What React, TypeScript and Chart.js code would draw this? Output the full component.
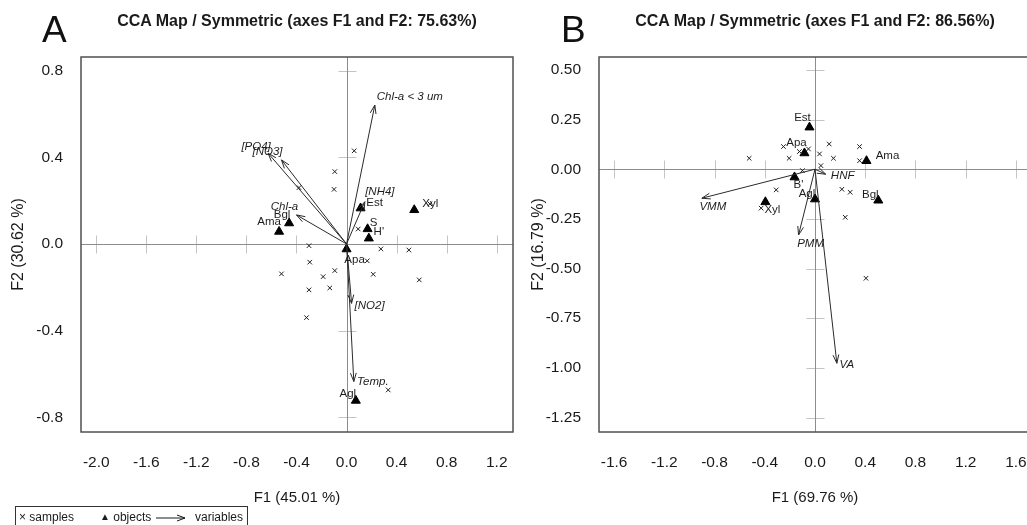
import React, { useEffect, useRef } from "react";
import { Chart, registerables } from "chart.js";

Chart.register(...registerables);

const FONT = "'Liberation Sans', Arial, Helvetica, sans-serif";

// ---------------- Panel A data ----------------
const aTitle = "CCA Map / Symmetric (axes F1 and F2: 75.63%)";
const aXTitle = "F1 (45.01 %)";
const aYTitle = "F2 (30.62 %)";
const aXTicks = [-2.0, -1.6, -1.2, -0.8, -0.4, 0.0, 0.4, 0.8, 1.2];
const aYTicks = [-0.8, -0.4, 0.0, 0.4, 0.8];
const aSampleX = [0.061, -0.094, -0.1, -0.38, 0.093, 0.666, -0.3, 0.274, 0.498, 0.165, -0.294, -0.52, -0.094, -0.187, 0.213, 0.581, -0.3, -0.134, -0.32, 0.333];
const aSampleY = [0.43, 0.334, 0.252, 0.26, 0.069, 0.185, -0.008, -0.023, -0.028, -0.078, -0.084, -0.138, -0.123, -0.151, -0.14, -0.166, -0.212, -0.203, -0.34, -0.674];
const aObjectNames = ["Est", "Xyl", "Bgl", "Ama", "S", "H'", "Apa", "Agl"];
const aObjectX = [0.112, 0.541, -0.459, -0.539, 0.168, 0.178, 0.0, 0.074];
const aObjectY = [0.165, 0.157, 0.096, 0.057, 0.069, 0.026, -0.024, -0.723];
const aVarNames = ["Chl-a < 3 um", "[PO4]", "[NO3]", "Chl-a", "[NH4]", "[NO2]", "Temp."];
const aVarX = [0.226, -0.627, -0.52, -0.4, 0.146, 0.04, 0.058];
const aVarY = [0.641, 0.419, 0.388, 0.134, 0.195, -0.274, -0.635];

// ---------------- Panel B data ----------------
const bTitle = "CCA Map / Symmetric (axes F1 and F2: 86.56%)";
const bXTitle = "F1 (69.76 %)";
const bYTitle = "F2 (16.79 %)";
const bXTicks = [-1.6, -1.2, -0.8, -0.4, 0.0, 0.4, 0.8, 1.2, 1.6];
const bYTicks = [-1.25, -1.0, -0.75, -0.5, -0.25, 0.0, 0.25, 0.5];
const bSampleX = [-0.524, -0.251, -0.206, -0.124, -0.052, 0.113, 0.036, 0.147, 0.355, 0.355, -0.1, 0.047, -0.309, 0.214, 0.28, -0.429, 0.241, 0.406];
const bSampleY = [0.055, 0.114, 0.055, 0.089, 0.102, 0.127, 0.077, 0.055, 0.114, 0.043, -0.007, 0.018, -0.104, -0.101, -0.116, -0.196, -0.242, -0.549];
const bObjectNames = ["Est", "Apa", "Ama", "Bgl", "Xyl", "B'", "Agl"];
const bObjectX = [-0.044, -0.084, 0.41, 0.504, -0.395, -0.163, 0.0];
const bObjectY = [0.211, 0.081, 0.042, -0.157, -0.165, -0.04, -0.151];
const bVarNames = ["VMM", "PMM", "HNF", "VA"];
const bVarX = [-0.901, -0.131, 0.085, 0.174];
const bVarY = [-0.146, -0.331, -0.025, -0.977];

// ---------------- Label placement (pixel offsets from the mark) ----------------
const aObjectLabelOffsets = [[14, -5], [16, -6], [-7, -8], [-10, -10], [6, -6], [10, -6], [8, 11], [-8, -7]];
const aVarLabelOffsets = [[35, -8], [-12, -6], [-14, -8], [-12, -8], [15, -10], [18, 2], [19, 0]];
const bObjectLabelOffsets = [[-7, -9], [-8, -10], [21, -5], [-8, -6], [7, 8], [4, 8], [-8, -5]];
const bVarLabelOffsets = [[11, 9], [12, 9], [17, 2], [10, 2]];

type PanelCfg = {
  left: number;
  yAxisWidth: number;
  padRight: number;
  xMin: number; xMax: number; yMin: number; yMax: number;
  xTicks: number[]; yTicks: number[]; yDecimals: number;
  xTitle: string; yTitle: string;
  sampleX: number[]; sampleY: number[];
  objectNames: string[]; objectX: number[]; objectY: number[];
  varNames: string[]; varX: number[]; varY: number[];
  objectOffsets: number[][]; varOffsets: number[][];
};

const panelA: PanelCfg = {
  left: 0, yAxisWidth: 81, padRight: 7,
  xMin: -2.122, xMax: 1.33, yMin: -0.868, yMax: 0.863,
  xTicks: aXTicks, yTicks: aYTicks, yDecimals: 1,
  xTitle: aXTitle, yTitle: aYTitle,
  sampleX: aSampleX, sampleY: aSampleY,
  objectNames: aObjectNames, objectX: aObjectX, objectY: aObjectY,
  varNames: aVarNames, varX: aVarX, varY: aVarY,
  objectOffsets: aObjectLabelOffsets, varOffsets: aVarLabelOffsets,
};

const panelB: PanelCfg = {
  left: 520, yAxisWidth: 79, padRight: 9,
  xMin: -1.72, xMax: 1.72, yMin: -1.323, yMax: 0.565,
  xTicks: bXTicks, yTicks: bYTicks, yDecimals: 2,
  xTitle: bXTitle, yTitle: bYTitle,
  sampleX: bSampleX, sampleY: bSampleY,
  objectNames: bObjectNames, objectX: bObjectX, objectY: bObjectY,
  varNames: bVarNames, varX: bVarX, varY: bVarY,
  objectOffsets: bObjectLabelOffsets, varOffsets: bVarLabelOffsets,
};

function seg(ctx: CanvasRenderingContext2D, x1: number, y1: number, x2: number, y2: number) {
  ctx.beginPath();
  ctx.moveTo(x1, y1);
  ctx.lineTo(x2, y2);
  ctx.stroke();
}

const ccaPlugin = {
  id: "ccaDecor",
  beforeDatasetsDraw(chart: any, _args: any, opts: any) {
    const { ctx, chartArea: ca, scales } = chart;
    const x = scales.x, y = scales.y;
    const p: PanelCfg = opts.panel;
    ctx.save();
    ctx.beginPath();
    ctx.rect(ca.left, ca.top, ca.right - ca.left, ca.bottom - ca.top);
    ctx.clip();
    const x0 = Math.round(x.getPixelForValue(0)) + 0.5;
    const y0 = Math.round(y.getPixelForValue(0)) + 0.5;
    ctx.lineWidth = 1;
    ctx.strokeStyle = "#c4c4c4";
    for (const v of p.xTicks) {
      if (v === 0) continue;
      const px = Math.round(x.getPixelForValue(v)) + 0.5;
      seg(ctx, px, y0 - 9, px, y0 + 9);
    }
    for (const v of p.yTicks) {
      if (v === 0) continue;
      const py = Math.round(y.getPixelForValue(v)) + 0.5;
      seg(ctx, x0 - 9, py, x0 + 9, py);
    }
    ctx.strokeStyle = "#8c8c8c";
    seg(ctx, ca.left, y0, ca.right, y0);
    seg(ctx, x0, ca.top, x0, ca.bottom);
    ctx.restore();
  },
  afterDatasetsDraw(chart: any, _args: any, opts: any) {
    const { ctx, chartArea: ca, scales } = chart;
    const x = scales.x, y = scales.y;
    const p: PanelCfg = opts.panel;
    ctx.save();
    const ox = x.getPixelForValue(0), oy = y.getPixelForValue(0);
    // variable arrows
    ctx.strokeStyle = "#2a2a2a";
    ctx.lineWidth = 1;
    p.varNames.forEach((_n, i) => {
      const px = x.getPixelForValue(p.varX[i]);
      const py = y.getPixelForValue(p.varY[i]);
      seg(ctx, ox, oy, px, py);
      const ang = Math.atan2(py - oy, px - ox);
      const L = 9, a = 0.33;
      seg(ctx, px, py, px - L * Math.cos(ang - a), py - L * Math.sin(ang - a));
      seg(ctx, px, py, px - L * Math.cos(ang + a), py - L * Math.sin(ang + a));
    });
    // labels
    ctx.fillStyle = "#1e1e1e";
    ctx.textAlign = "center";
    ctx.textBaseline = "middle";
    ctx.font = `italic 11.5px ${FONT}`;
    p.varNames.forEach((n, i) => {
      const px = x.getPixelForValue(p.varX[i]);
      const py = y.getPixelForValue(p.varY[i]);
      ctx.fillText(n, px + p.varOffsets[i][0], py + p.varOffsets[i][1]);
    });
    ctx.font = `11.5px ${FONT}`;
    const meta = chart.getDatasetMeta(1);
    p.objectNames.forEach((n, i) => {
      const el = meta.data[i];
      ctx.fillText(n, el.x + p.objectOffsets[i][0], el.y + p.objectOffsets[i][1]);
    });
    // frame
    ctx.strokeStyle = "#505050";
    ctx.lineWidth = 1.5;
    ctx.strokeRect(ca.left, ca.top, ca.right - ca.left, ca.bottom - ca.top);
    ctx.restore();
  },
};

function CcaPanel({ p }: { p: PanelCfg }) {
  const ref = useRef<HTMLCanvasElement>(null);
  useEffect(() => {
    const canvas = ref.current;
    if (!canvas) return;
    const chart = new Chart(canvas, {
      type: "scatter",
      data: {
        datasets: [
          {
            label: "samples",
            data: p.sampleX.map((v, i) => ({ x: v, y: p.sampleY[i] })),
            pointStyle: "crossRot",
            pointRadius: 3.2,
            pointBorderWidth: 1,
            borderColor: "#1e1e1e",
            backgroundColor: "#1e1e1e",
          },
          {
            label: "objects",
            data: p.objectX.map((v, i) => ({ x: v, y: p.objectY[i] })),
            pointStyle: "triangle",
            pointRadius: 5.2,
            pointBorderWidth: 1,
            borderColor: "#000",
            backgroundColor: "#000",
          },
        ],
      },
      options: {
        responsive: false,
        animation: false,
        events: [],
        layout: { autoPadding: false, padding: { top: 57, right: p.padRight, left: 0, bottom: 0 } },
        plugins: {
          legend: { display: false },
          tooltip: { enabled: false },
          title: { display: false },
          ccaDecor: { panel: p },
        } as any,
        scales: {
          x: {
            type: "linear",
            min: p.xMin,
            max: p.xMax,
            afterBuildTicks: (s: any) => {
              s.ticks = p.xTicks.map((v) => ({ value: v }));
            },
            afterFit: (s: any) => {
              s.height = 93;
              s.paddingLeft = 0;
              s.paddingRight = 0;
            },
            grid: { display: false, drawTicks: false },
            border: { display: false },
            ticks: {
              autoSkip: false,
              maxRotation: 0,
              padding: 21,
              color: "#1a1a1a",
              font: { family: FONT, size: 15.5 },
              callback: (v: any) => Number(v).toFixed(1),
            },
            title: {
              display: true,
              text: p.xTitle,
              color: "#1a1a1a",
              font: { family: FONT, size: 15 },
              padding: { top: 0, bottom: 18 },
            },
          },
          y: {
            type: "linear",
            min: p.yMin,
            max: p.yMax,
            afterBuildTicks: (s: any) => {
              s.ticks = p.yTicks.map((v) => ({ value: v }));
            },
            afterFit: (s: any) => {
              s.width = p.yAxisWidth;
              s.paddingTop = 0;
              s.paddingBottom = 0;
            },
            grid: { display: false, drawTicks: false },
            border: { display: false },
            ticks: {
              autoSkip: false,
              padding: 18,
              color: "#1a1a1a",
              font: { family: FONT, size: 15.5 },
              callback: (v: any) => Number(v).toFixed(p.yDecimals),
            },
            title: {
              display: true,
              text: p.yTitle,
              color: "#1a1a1a",
              font: { family: FONT, size: 16 },
              padding: { top: 9, bottom: 0 },
            },
          },
        },
      },
      plugins: [ccaPlugin as any],
    });
    return () => chart.destroy();
  }, [p]);
  return (
    <canvas
      ref={ref}
      width={520}
      height={525}
      style={{ position: "absolute", left: p.left, top: 0, width: 520, height: 525 }}
    />
  );
}

const letterStyle: React.CSSProperties = {
  position: "absolute",
  top: 10.5,
  fontFamily: FONT,
  fontSize: 37,
  lineHeight: "37px",
  color: "#111",
};

const titleStyle: React.CSSProperties = {
  position: "absolute",
  top: 13,
  width: 432,
  textAlign: "center",
  fontFamily: FONT,
  fontWeight: "bold",
  fontSize: 16,
  lineHeight: "16px",
  color: "#1a1a1a",
  whiteSpace: "nowrap",
};

export default function App() {
  return (
    <div
      style={{
        position: "absolute",
        left: 0,
        top: 0,
        width: 1027,
        height: 525,
        overflow: "hidden",
        background: "#fff",
      }}
    >
      <CcaPanel p={panelA} />
      <CcaPanel p={panelB} />
      <div style={{ ...letterStyle, left: 42 }}>A</div>
      <div style={{ ...letterStyle, left: 561 }}>B</div>
      <div style={{ ...titleStyle, left: 81 }}>{aTitle}</div>
      <div style={{ ...titleStyle, left: 599 }}>{bTitle}</div>
      <div
        style={{
          position: "absolute",
          left: 15,
          top: 506,
          width: 231,
          height: 30,
          border: "1px solid #333",
          fontFamily: FONT,
          fontSize: 12,
          lineHeight: "14px",
          color: "#1a1a1a",
        }}
      >
        <span style={{ position: "absolute", left: 3, top: 3 }}>× samples</span>
        <span style={{ position: "absolute", left: 84, top: 3 }}>
          <span style={{ fontSize: 10, position: "relative", top: -1 }}>▲</span> objects
        </span>
        <svg style={{ position: "absolute", left: 139, top: 6 }} width={32} height={10}>
          <line x1={1} y1={5} x2={30} y2={5} stroke="#1a1a1a" strokeWidth={1} />
          <polyline points="22,2 30,5 22,8" fill="none" stroke="#1a1a1a" strokeWidth={1} />
        </svg>
        <span style={{ position: "absolute", left: 179, top: 3 }}>variables</span>
      </div>
    </div>
  );
}
